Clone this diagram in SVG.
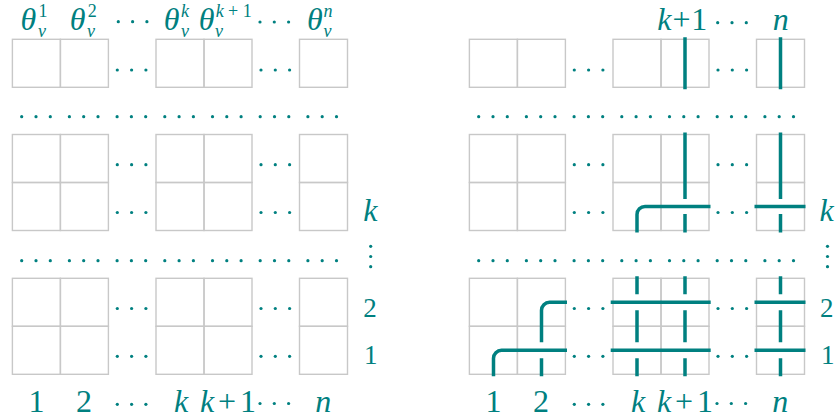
<svg xmlns="http://www.w3.org/2000/svg" xmlns:xlink="http://www.w3.org/1999/xlink" width="835" height="420" viewBox="0 0 835 420">
<style>
.cell{fill:none;stroke:#c8c8c8;stroke-width:1.4}
.dt{fill:#008080}
.wire{fill:none;stroke:#008080;stroke-width:3.5;stroke-linecap:butt}
</style>
<defs>
<g id="cd"><circle class="dt" cx="0" cy="0" r="1.6"/><circle class="dt" cx="14.3" cy="0" r="1.6"/><circle class="dt" cx="28.6" cy="0" r="1.6"/></g>
<g id="vd"><circle class="dt" cx="0" cy="0" r="1.6"/><circle class="dt" cx="0" cy="10.2" r="1.6"/><circle class="dt" cx="0" cy="20.4" r="1.6"/></g>
<g id="hrow">
<use xlink:href="#cd" x="21.7"/><use xlink:href="#cd" x="69.4"/><use xlink:href="#cd" x="117.1"/><use xlink:href="#cd" x="164.8"/><use xlink:href="#cd" x="212.5"/><use xlink:href="#cd" x="260.2"/><use xlink:href="#cd" x="307.9"/>
</g>
<g id="grid1">
<rect class="cell" x="12.4" y="39.3" width="48" height="48"/><rect class="cell" x="60.4" y="39.3" width="48" height="48"/>
<rect class="cell" x="156" y="39.3" width="48" height="48"/><rect class="cell" x="204" y="39.3" width="48" height="48"/>
<rect class="cell" x="299.5" y="39.3" width="48" height="48"/>
</g>
<g id="grid2">
<rect class="cell" x="12.4" y="0" width="48" height="48"/><rect class="cell" x="60.4" y="0" width="48" height="48"/>
<rect class="cell" x="12.4" y="48" width="48" height="48"/><rect class="cell" x="60.4" y="48" width="48" height="48"/>
<rect class="cell" x="156" y="0" width="48" height="48"/><rect class="cell" x="204" y="0" width="48" height="48"/>
<rect class="cell" x="156" y="48" width="48" height="48"/><rect class="cell" x="204" y="48" width="48" height="48"/>
<rect class="cell" x="299.5" y="0" width="48" height="48"/><rect class="cell" x="299.5" y="48" width="48" height="48"/>
<use xlink:href="#cd" x="117.3" y="30.2"/><use xlink:href="#cd" x="261" y="30.2"/>
<use xlink:href="#cd" x="117.3" y="78"/><use xlink:href="#cd" x="261" y="78"/>
</g>
</defs>

<g id="left-panel" font-family="Liberation Serif, Times New Roman, serif" fill="#008080">
<g id="L-top-row">
<use xlink:href="#grid1"/>
<use xlink:href="#cd" x="117.3" y="70"/><use xlink:href="#cd" x="261" y="70"/>
</g>
<g id="L-hdots1"><use xlink:href="#hrow" y="116.7"/></g>
<g id="L-mid-block"><use xlink:href="#grid2" y="134.5"/></g>
<g id="L-hdots2"><use xlink:href="#hrow" y="260.7"/></g>
<g id="L-bottom-block"><use xlink:href="#grid2" y="278.3"/></g>
<g id="L-top-labels">
<text font-size="32" font-style="italic" x="20.5" y="29.5">θ</text><text font-size="18" x="38.5" y="17">1</text><text font-size="18" font-style="italic" x="38" y="37">v</text>
<text font-size="32" font-style="italic" x="69.8" y="29.5">θ</text><text font-size="18" x="87.7" y="17">2</text><text font-size="18" font-style="italic" x="87" y="37">v</text>
<use xlink:href="#cd" x="118.3" y="21.7"/>
<text font-size="32" font-style="italic" x="163.8" y="29.5">θ</text><text font-size="18" font-style="italic" x="181" y="17">k</text><text font-size="18" font-style="italic" x="181" y="37">v</text>
<text font-size="32" font-style="italic" x="198.8" y="29.5">θ</text><text font-size="18" x="215.7" y="17" textLength="36" lengthAdjust="spacing"><tspan font-style="italic">k</tspan>+1</text><text font-size="18" font-style="italic" x="215" y="37">v</text>
<use xlink:href="#cd" x="260" y="22"/>
<text font-size="32" font-style="italic" x="307" y="29.5">θ</text><text font-size="18" font-style="italic" x="323.5" y="17">n</text><text font-size="18" font-style="italic" x="323.5" y="37">v</text>
</g>
<g id="L-bottom-labels" font-size="32">
<text x="36.5" y="411.5" text-anchor="middle">1</text>
<text x="84" y="411.5" text-anchor="middle">2</text>
<use xlink:href="#cd" x="117.3" y="404.3"/>
<text font-style="italic" x="181" y="411.5" text-anchor="middle">k</text>
<text x="200" y="411.5" textLength="56" lengthAdjust="spacing"><tspan font-style="italic">k</tspan>+1</text>
<use xlink:href="#cd" x="260" y="403.5"/>
<text font-style="italic" x="323.3" y="411.5" text-anchor="middle">n</text>
</g>
<g id="L-row-labels">
<text font-size="32" font-style="italic" x="363.3" y="221">k</text>
<use xlink:href="#vd" x="370.7" y="246.3"/>
<text font-size="27" x="363.3" y="317.3">2</text>
<text font-size="27" x="364" y="364">1</text>
</g>
</g>

<g id="right-panel" font-family="Liberation Serif, Times New Roman, serif" fill="#008080">
<g id="R-top-row">
<use xlink:href="#grid1" x="457"/>
<use xlink:href="#cd" x="574.3" y="70"/><use xlink:href="#cd" x="718" y="70"/>
</g>
<g id="R-hdots1"><use xlink:href="#hrow" x="457" y="116.7"/></g>
<g id="R-mid-block"><use xlink:href="#grid2" x="457" y="134.5"/></g>
<g id="R-hdots2"><use xlink:href="#hrow" x="457" y="260.7"/></g>
<g id="R-bottom-block"><use xlink:href="#grid2" x="457" y="278.3"/></g>
<g id="R-top-labels" font-size="32">
<text x="657.3" y="29.5" textLength="50" lengthAdjust="spacing"><tspan font-style="italic">k</tspan>+1</text>
<use xlink:href="#cd" x="717.7" y="22.7"/>
<text font-style="italic" x="780.7" y="29.5" text-anchor="middle">n</text>
</g>
<g id="R-bottom-labels" font-size="32">
<text x="493.5" y="411.5" text-anchor="middle">1</text>
<text x="541" y="411.5" text-anchor="middle">2</text>
<use xlink:href="#cd" x="574.3" y="404.3"/>
<text font-style="italic" x="638" y="411.5" text-anchor="middle">k</text>
<text x="657" y="411.5" textLength="56" lengthAdjust="spacing"><tspan font-style="italic">k</tspan>+1</text>
<use xlink:href="#cd" x="717" y="403.5"/>
<text font-style="italic" x="780.3" y="411.5" text-anchor="middle">n</text>
</g>
<g id="R-row-labels">
<text font-size="32" font-style="italic" x="819.5" y="221">k</text>
<use xlink:href="#vd" x="827.5" y="246.3"/>
<text font-size="27" x="820" y="317.3">2</text>
<text font-size="27" x="821" y="364">1</text>
</g>
</g>

<g id="connectors">
<path class="wire" d="M685 37.3V89.3M780.5 37.3V89.3"/>
<path class="wire" d="M685 132.5V199M685 214V232.5M780.5 132.5V199M780.5 214V232.5"/>
<path class="wire" d="M637 232.5V214.5A8 8 0 0 1 645 206.5H710.5M754.5 206.5H805.5"/>
<path class="wire" d="M493.5 376.3V358.3A8 8 0 0 1 501.5 350.3H567"/>
<path class="wire" d="M541.5 342.3V310.3A8 8 0 0 1 549.5 302.3H567M541.5 358.3V376.3"/>
<path class="wire" d="M610.7 302.3H710.7M610.7 350.3H710.7M754.5 302.3H805.5M754.5 350.3H805.5"/>
<path class="wire" d="M637 276.3V294.3M637 310.3V342.3M637 358.3V376.3M685 276.3V294.3M685 310.3V342.3M685 358.3V376.3M780.5 276.3V294.3M780.5 310.3V342.3M780.5 358.3V376.3"/>
</g>
</svg>
